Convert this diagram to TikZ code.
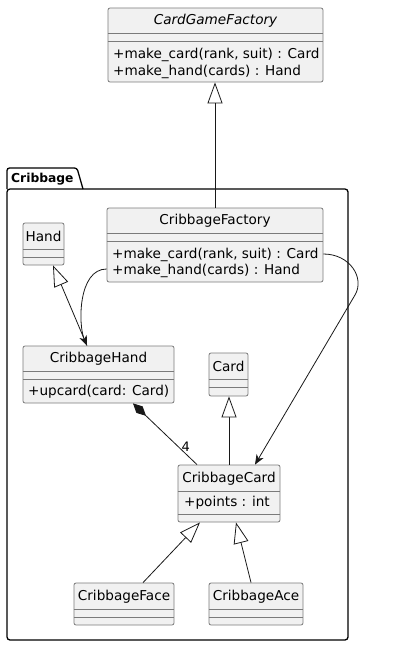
\documentclass[tikz,border=0pt]{standalone}
\usepackage{fontspec}
\setmainfont{DejaVu Sans}
\usetikzlibrary{arrows.meta,calc}
\definecolor{boxfill}{HTML}{F1F1F1}
\definecolor{boxline}{HTML}{7A7A7A}
\definecolor{ink}{HTML}{181818}
\begin{document}
\begin{tikzpicture}[x=1pt,y=-1pt,
  cls/.style={draw=boxline,fill=boxfill,line width=0.8pt,rounded corners=2pt,inner sep=0pt},
  sepline/.style={draw=boxline,line width=0.8pt},
  txt/.style={inner sep=0pt,font=\fontsize{13.6}{16}\selectfont,text=black},
  ltxt/.style={txt,anchor=west},
  pkg/.style={draw=black,line width=1.3pt},
  conn/.style={draw=ink,line width=0.8pt},
  gen/.style={conn,-{Triangle[open,length=21pt,width=15pt,fill=white]}},
  dep/.style={conn,-{Stealth[length=10pt,width=8pt,inset=3pt]}},
  comp/.style={conn,{Diamond[length=18pt,width=9pt]}-}
]
\useasboundingbox (0,0) rectangle (417,647);
% package
\draw[pkg,rounded corners=2.5pt] (7,189) -- (7,168) -- (77,168) -- (83,189);
\draw[pkg,rounded corners=3pt] (7,189) rectangle (348,640);
\node[inner sep=0pt,anchor=west,font=\bfseries\fontsize{12.3}{14}\selectfont] (pkgname) at (11,179) {Cribbage};

% CardGameFactory
\node[cls,minimum width=215pt,minimum height=74pt] (cgf) at (215.5,45) {};
\draw[sepline] (cgf.west |- 0,33) -- (cgf.east |- 0,33);
\draw[sepline] (cgf.west |- 0,41) -- (cgf.east |- 0,41);
\node[txt,font=\itshape\fontsize{13.6}{16}\selectfont] (cgft) at (215.5,20.5) {CardGameFactory};
\node[ltxt] (cgfm1) at (113,55) {+make\_card(rank, suit) : Card};
\node[ltxt] (cgfm2) at (113,72) {+make\_hand(cards) : Hand};

% CribbageFactory
\node[cls,minimum width=216pt,minimum height=74pt] (cf) at (215,245) {};
\draw[sepline] (cf.west |- 0,233) -- (cf.east |- 0,233);
\draw[sepline] (cf.west |- 0,241) -- (cf.east |- 0,241);
\node[txt] (cft) at (215,220.5) {CribbageFactory};
\node[ltxt] (cfm1) at (112,254.5) {+make\_card(rank, suit) : Card};
\node[ltxt] (cfm2) at (112,270.5) {+make\_hand(cards) : Hand};

% Hand
\node[cls,minimum width=41pt,minimum height=42pt] (hand) at (43.5,244) {};
\draw[sepline] (hand.west |- 0,249) -- (hand.east |- 0,249);
\draw[sepline] (hand.west |- 0,257) -- (hand.east |- 0,257);
\node[txt] (handt) at (43.5,236.5) {Hand};

% CribbageHand
\node[cls,minimum width=151pt,minimum height=57pt] (ch) at (98.5,374.5) {};
\draw[sepline] (ch.west |- 0,371) -- (ch.east |- 0,371);
\draw[sepline] (ch.west |- 0,379) -- (ch.east |- 0,379);
\node[txt] (cht) at (98.5,358.5) {CribbageHand};
\node[ltxt] (chm) at (28,391.5) {+upcard(card: Card)};

% Card
\node[cls,minimum width=39pt,minimum height=43pt] (card) at (228.5,374.5) {};
\draw[sepline] (card.west |- 0,379) -- (card.east |- 0,379);
\draw[sepline] (card.west |- 0,387) -- (card.east |- 0,387);
\node[txt] (cardt) at (228.5,366.5) {Card};

% CribbageCard
\node[cls,minimum width=102pt,minimum height=57pt] (cc) at (229,493.5) {};
\draw[sepline] (cc.west |- 0,491) -- (cc.east |- 0,491);
\draw[sepline] (cc.west |- 0,514) -- (cc.east |- 0,514);
\node[txt] (cct) at (229,478.5) {CribbageCard};
\node[ltxt] (cca) at (184,502.5) {+points : int};

% CribbageFace
\node[cls,minimum width=100pt,minimum height=42pt] (face) at (124,604) {};
\draw[sepline] (face.west |- 0,609) -- (face.east |- 0,609);
\draw[sepline] (face.west |- 0,617) -- (face.east |- 0,617);
\node[txt] (facet) at (124,596.5) {CribbageFace};

% CribbageAce
\node[cls,minimum width=94pt,minimum height=42pt] (ace) at (256,604) {};
\draw[sepline] (ace.west |- 0,609) -- (ace.east |- 0,609);
\draw[sepline] (ace.west |- 0,617) -- (ace.east |- 0,617);
\node[txt] (acet) at (256,596.5) {CribbageAce};

% connectors
\draw[gen] (cf.north) -- (cf.north |- cgf.south);
\draw[gen] ($(ch.north)+(-11.5,0)$) -- ($(hand.south)+(9.5,0)$);
\draw[gen] (cc.north) -- (cc.north |- card.south);
\draw[gen] ($(face.north)+(19,0)$) -- ($(cc.south)+(-29,0)$);
\draw[gen] ($(ace.north)+(-5,0)$) -- ($(cc.south)+(7,0)$);
\draw[dep] ($(cf.west)+(0,24)$) .. controls (78,269) and (78,325) .. ($(ch.north)+(-11.5,0)$);
\draw[dep] ($(cf.east)+(0,9)$) .. controls (350,254) and (365,278) .. (355,295) -- ($(cc.north)+(26,0)$);
\draw[comp] ($(ch.south)+(34.5,0)$) -- ($(cc.north)+(-32,0)$) node[pos=0.8,above left,inner sep=0pt,txt,xshift=6pt,font=\fontsize{13}{15}\selectfont] (mult) {4};
\end{tikzpicture}
\end{document}
